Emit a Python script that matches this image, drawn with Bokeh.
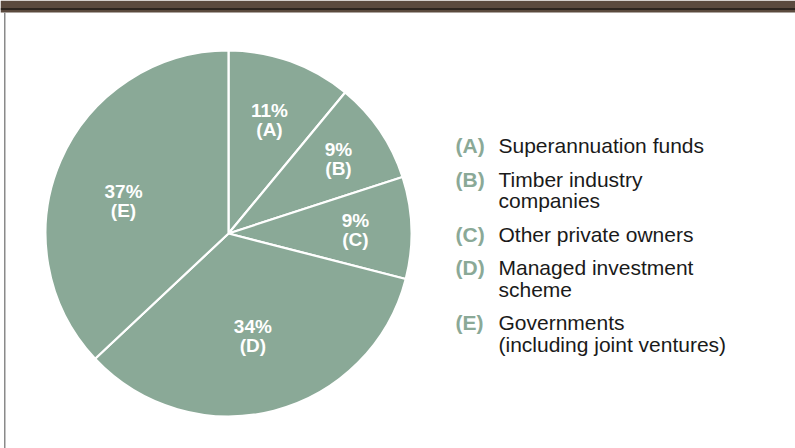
import math
from bokeh.plotting import figure
from bokeh.models import Range1d
from bokeh.core.properties import value
from bokeh.embed import file_html
from bokeh.resources import INLINE

# ---- data ----
letters = ["A", "B", "C", "D", "E"]
shares = [11, 9, 9, 34, 37]
names = [
    "Superannuation funds",
    "Timber industry\ncompanies",
    "Other private owners",
    "Managed investment\nscheme",
    "Governments\n(including joint ventures)",
]

# ---- layout / style ----
W, H = 795, 448
FONT = "Liberation Sans"
PIE = "#8aa997"
BROWN = "#5b4a3e"
CX, CY, R = 228, H - 233, 183
label_r = [121, 133, 127, 105, 110]
label_da = [0.0, 0.0, 0.0, 1.0, -6.0]  # degrees nudge (clockwise)

p = figure(width=W, height=H, output_backend="svg", toolbar_location=None,
           x_range=Range1d(0, W), y_range=Range1d(0, H),
           min_border=0, outline_line_color=None)
p.axis.visible = False
p.grid.visible = False
p.background_fill_color = "white"
p.border_fill_color = "white"

# top band and left border
p.quad(left=0, right=W, bottom=H - 12, top=H, fill_color=BROWN, line_color=None)
p.quad(left=0, right=W, bottom=H - 9, top=H - 8, fill_color="black", line_color=None)
p.quad(left=3.5, right=5, bottom=0, top=H - 12, fill_color="#8a8a8a", line_color=None)

# pie wedges
total = sum(shares)
cum = 0
starts, ends = [], []
for v in shares:
    a0 = math.pi / 2 - 2 * math.pi * cum / total
    cum += v
    a1 = math.pi / 2 - 2 * math.pi * cum / total
    starts.append(a1)
    ends.append(a0)
p.wedge(x=CX, y=CY, radius=R, start_angle=starts, end_angle=ends,
        direction="anticlock", fill_color=PIE, line_color="white", line_width=2.2)

# pie labels
cum = 0
for i, v in enumerate(shares):
    mid = (cum + v / 2) / total * 360 + label_da[i]
    cum += v
    th = math.radians(mid)
    lx = CX + label_r[i] * math.sin(th)
    ly = CY + label_r[i] * math.cos(th)
    p.text(x=[lx], y=[ly + 9.5], text=[f"{v}%"], text_color="white",
           text_font=value(FONT), text_font_style="bold", text_font_size="19px",
           text_align="center", text_baseline="middle")
    p.text(x=[lx], y=[ly - 9.5], text=[f"({letters[i]})"], text_color="white",
           text_font=value(FONT), text_font_style="bold", text_font_size="19px",
           text_align="center", text_baseline="middle")

# legend
LX, TX = 455, 498
y = H - 145
for i, name in enumerate(names):
    p.text(x=[LX], y=[y], text=[f"({letters[i]})"], text_color=PIE,
           text_font=value(FONT), text_font_style="bold", text_font_size="21px",
           text_align="left", text_baseline="middle")
    lines = name.split("\n")
    for j, ln in enumerate(lines):
        p.text(x=[TX], y=[y - 21.5 * j], text=[ln], text_color="#1a1a1a",
               text_font=value(FONT), text_font_size="21px",
               text_align="left", text_baseline="middle")
    y -= 33.5 + 21.5 * (len(lines) - 1)

open("out.html", "w").write(file_html(p, INLINE))
